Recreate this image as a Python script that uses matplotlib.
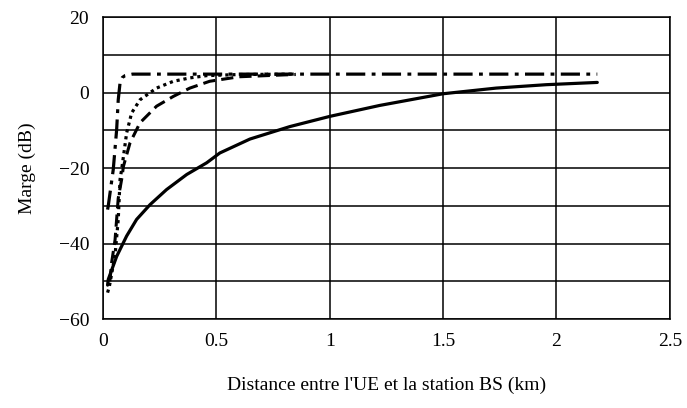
import matplotlib.pyplot as plt

plt.rcParams['font.family'] = ['Liberation Serif', 'DejaVu Serif']

# distance (km) and margin (dB) for each curve
d_solid = [0.02, 0.023, 0.06, 0.104, 0.148, 0.207, 0.28, 0.369, 0.457, 0.515, 0.648, 0.824, 1.0, 1.22, 1.5, 1.734, 1.955, 2.18]
m_solid = [-51.0, -49.5, -43.4, -38.0, -33.6, -29.7, -25.7, -21.7, -18.6, -16.0, -12.3, -9.0, -6.3, -3.4, -0.3, 1.2, 2.1, 2.7]

d_dashdot = [0.02, 0.023, 0.045, 0.06, 0.067, 0.075, 0.085, 0.097, 0.13, 0.5, 1.0, 1.5, 2.18]
m_dashdot = [-31.0, -30.0, -20.4, -9.8, -1.9, 2.6, 4.0, 4.5, 4.9, 4.9, 4.9, 4.9, 4.9]

d_dotted = [0.02, 0.028, 0.053, 0.067, 0.075, 0.082, 0.104, 0.126, 0.163, 0.236, 0.31, 0.383, 0.457, 0.6, 0.85]
m_dotted = [-53.0, -51.3, -43.0, -33.6, -23.0, -20.4, -10.7, -5.4, -1.9, 1.2, 3.0, 3.9, 4.5, 4.8, 4.9]

d_dashed = [0.03, 0.038, 0.053, 0.067, 0.082, 0.09, 0.119, 0.163, 0.236, 0.31, 0.383, 0.47, 0.6, 0.8, 0.85]
m_dashed = [-50.0, -45.0, -39.0, -28.0, -23.0, -19.5, -13.3, -8.0, -3.6, -1.0, 1.2, 3.0, 4.2, 4.7, 4.8]

fig = plt.figure(figsize=(6.87, 4.08), dpi=100)
ax = fig.add_axes([0.15, 0.218, 0.825, 0.74])

ax.plot(d_solid, m_solid, color='black', lw=2.3, solid_capstyle='round', solid_joinstyle='round')
ax.plot(d_dashdot, m_dashdot, color='black', lw=2.3, dashes=(6, 2, 1.2, 2))
ax.plot(d_dotted, m_dotted, color='black', lw=2.3, dashes=(1, 1.2))
ax.plot(d_dashed, m_dashed, color='black', lw=2.2, dashes=(4, 2))

ax.set_xlim(0, 2.5)
ax.set_ylim(-60, 20)
ax.set_xticks([0, 0.5, 1, 1.5, 2, 2.5])
ax.set_xticklabels(['0', '0.5', '1', '1.5', '2', '2.5'])
ax.set_yticks([-60, -40, -20, 0, 20])
ax.set_yticks(range(-60, 21, 10), minor=True)
ax.grid(True, which='both', color='black', lw=1.1)
ax.tick_params(which='both', length=0, labelsize=14, pad=10)
for s in ax.spines.values():
    s.set_linewidth(1.1)

ax.set_xlabel("Distance entre l'UE et la station BS (km)", fontsize=14, labelpad=19)
ax.set_ylabel('Marge (dB)', fontsize=14, labelpad=16)

fig.savefig('out.png', dpi=100)
